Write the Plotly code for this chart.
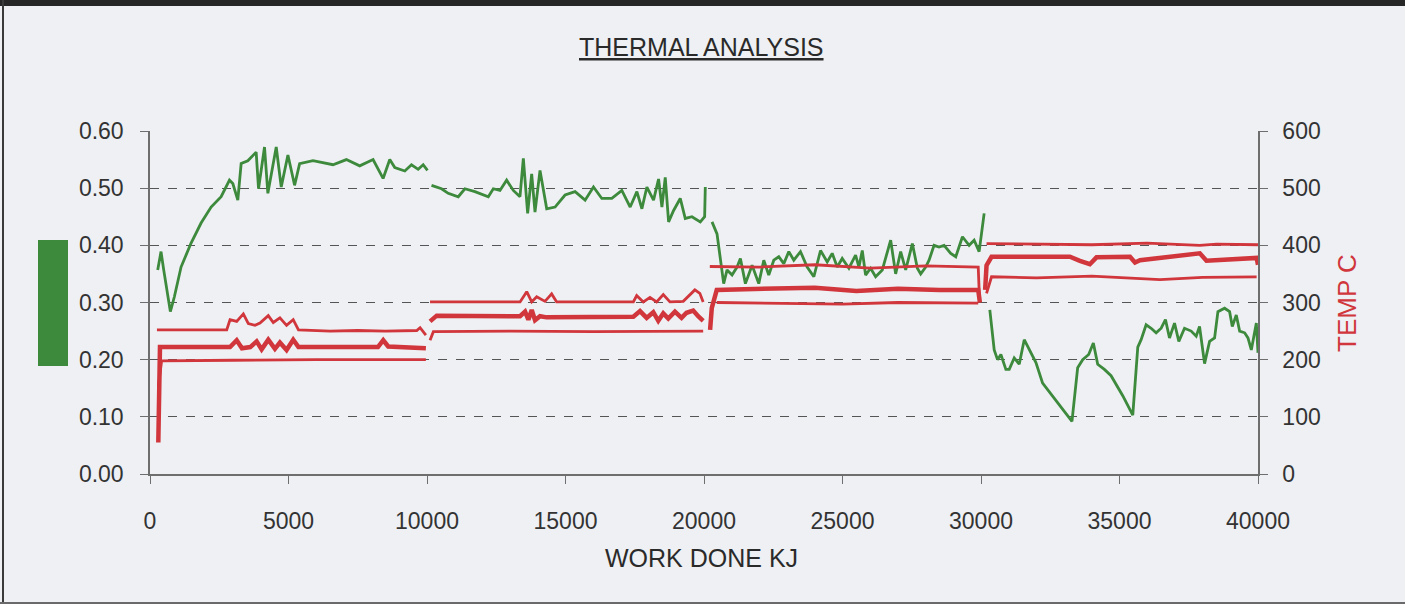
import plotly.graph_objects as go

# ---------------- data ----------------
# green series (left axis), four test segments
g1_x = [278, 398, 495, 735, 880, 1121, 1483, 1844, 2206, 2568, 2869, 2990, 3170, 3291, 3532, 3833, 3918, 4134, 4255,
        4557, 4738, 4979, 5220, 5401, 5883, 6607, 7089, 7571, 8053, 8415, 8656, 8837, 9199, 9440, 9681, 9862, 10018]
g1_y = [.357, .389, .357, .284, .31, .362, .404, .439, .467, .485, .514, .508, .479, .543, .548, .563, .499, .572, .491,
        .572, .502, .558, .505, .543, .548, .541, .55, .539, .55, .517, .55, .536, .53, .541, .533, .541, .531]
g2_x = [10163, 10524, 10766, 11128, 11368, 11730, 12213, 12394, 12634, 12875, 13117, 13357, 13478, 13634, 13779, 13899,
        14080, 14322, 14623, 14984, 15346, 15708, 16010, 16311, 16673, 17034, 17335, 17577, 17758, 17938, 18179, 18360,
        18481, 18601, 18722, 18903, 19143, 19324, 19565, 19866, 20023, 20047]
g2_y = [.505, .499, .491, .485, .499, .494, .485, .499, .496, .514, .496, .485, .552, .456, .525, .458,
        .531, .464, .467, .488, .494, .479, .502, .482, .482, .496, .467, .494, .464, .502, .479, .516,
        .467, .519, .441, .461, .482, .447, .45, .441, .45, .502]
g3_x = [20289, 20470, 20711, 20832, 21013, 21193, 21314, 21495, 21736, 21856, 21977, 22158, 22338, 22519, 22700, 22881,
        23062, 23242, 23483, 23725, 23966, 24207, 24448, 24629, 24810, 24990, 25231, 25473, 25593, 25714, 25834, 26015,
        26196, 26437, 26618, 26739, 26919, 27100, 27281, 27522, 27703, 27823, 28004, 28125, 28305, 28486, 28667, 28908,
        29089, 29330, 29571, 29752, 29933, 30114]
g3_y = [.441, .42, .333, .357, .348, .362, .377, .333, .365, .35, .333, .374, .348, .374, .38, .368,
        .389, .374, .389, .362, .345, .391, .371, .386, .362, .377, .36, .383, .362, .391, .348, .36,
        .345, .357, .389, .409, .35, .389, .357, .403, .36, .35, .362, .374, .4, .397, .4, .386,
        .38, .415, .4, .409, .389, .456]
g4_x = [30318, 30477, 30597, 30718, 30898, 31019, 31200, 31380, 31561, 31802, 31983, 32224, 32767, 33284, 33490, 33671,
        33888, 34056, 34213, 34454, 34695, 35117, 35479, 35660, 35781, 35961, 36142, 36323, 36504, 36660, 36805, 36986,
        37142, 37347, 37588, 37769, 37890, 38071, 38252, 38433, 38553, 38794, 38975, 39071, 39216, 39337, 39518, 39638,
        39759, 39940, 40000]
g4_y = [.287, .217, .2, .209, .183, .183, .203, .192, .235, .212, .195, .159, .124, .092, .186, .2,
        .209, .229, .192, .183, .172, .137, .103, .222, .235, .261, .255, .247, .255, .27, .238, .264,
        .232, .255, .25, .241, .258, .193, .232, .238, .284, .29, .284, .258, .278, .25, .247, .238,
        .217, .264, .212]

# red temperature series (right axis, deg C): upper, middle (thick), lower
t_up1_x = [250, 2770, 2890, 3130, 3370, 3550, 3790, 3970, 4270, 4450, 4690, 4930, 5170, 5360, 6500, 7500, 8500, 9630, 9750, 9960]
t_up1_y = [252, 252, 270, 267, 280, 263, 260, 264, 277, 265, 273, 260, 270, 252, 250, 251, 250, 251, 256, 243]
t_up2_x = [10110, 13360, 13600, 13780, 13960, 14260, 14500, 14680, 17450, 17570, 17810, 18050, 18290, 18530, 18770, 19250, 19670, 19850, 19970]
t_up2_y = [301, 301, 319, 301, 310, 302, 315, 301, 301, 312, 301, 309, 301, 314, 301, 302, 322, 316, 301]
t_up3_x = [20210, 22000, 24000, 26000, 28000, 29900, 29950]
t_up3_y = [363, 362, 366, 360, 364, 362, 300]
t_up4_x = [30200, 32000, 34000, 36000, 37900, 38500, 40000]
t_up4_y = [403, 402, 401, 404, 400, 402, 401]

t_mid1_x = [300, 360, 2890, 3130, 3320, 3620, 3850, 4030, 4270, 4510, 4690, 4930, 5170, 5360, 8230, 8420, 8600, 9960]
t_mid1_y = [55, 222, 222, 234, 220, 222, 232, 218, 235, 219, 230, 217, 235, 222, 222, 234, 223, 220]
t_mid2_x = [10110, 10350, 13360, 13540, 13660, 13780, 13900, 14080, 14320, 17450, 17690, 17930, 18170, 18350, 18530,
            18710, 18950, 19190, 19370, 19610, 19790, 19970]
t_mid2_y = [267, 277, 276, 284, 270, 287, 269, 276, 274, 275, 285, 273, 283, 268, 281, 272, 284, 273, 282, 286, 276, 268]
t_mid3_x = [20220, 20280, 20460, 22000, 24000, 25500, 27000, 28500, 29900, 29960]
t_mid3_y = [252, 290, 322, 323, 326, 320, 324, 322, 322, 300]
t_mid4_x = [30150, 30200, 30380, 33210, 33570, 33930, 34170, 35380, 35560, 35740, 37900, 38140, 39950, 40000]
t_mid4_y = [322, 365, 380, 380, 373, 367, 379, 380, 370, 374, 386, 373, 378, 366]

t_lo1_x = [300, 420, 3000, 6000, 9960]
t_lo1_y = [153, 198, 199, 200, 200]
t_lo2_x = [10110, 10230, 13000, 16000, 19970]
t_lo2_y = [234, 249, 250, 249, 250]
t_lo3_x = [20460, 22000, 25000, 27000, 29900]
t_lo3_y = [300, 299, 297, 300, 299]
t_lo4_x = [30200, 30380, 32000, 34000, 36460, 38000, 39950]
t_lo4_y = [316, 345, 343, 346, 340, 344, 345]

x_ticks = [0, 5000, 10000, 15000, 20000, 25000, 30000, 35000, 40000]
y_ticks = [0.0, 0.1, 0.2, 0.3, 0.4, 0.5, 0.6]
y2_ticks = [0, 100, 200, 300, 400, 500, 600]


def join(segs):
    out = []
    for i, s in enumerate(segs):
        if i:
            out.append(None)
        out.extend(s)
    return out


GREEN = "#3d8a3d"
RED = "#d0363b"
TXT = "#333333"
FONT = "Liberation Sans, Arial, sans-serif"

fig = go.Figure()
fig.add_trace(go.Scatter(x=join([g1_x, g2_x, g3_x, g4_x]), y=join([g1_y, g2_y, g3_y, g4_y]),
                         mode="lines", line=dict(color=GREEN, width=2.8), connectgaps=False, showlegend=False))
fig.add_trace(go.Scatter(x=join([t_up1_x, t_up2_x, t_up3_x, t_up4_x]), y=join([t_up1_y, t_up2_y, t_up3_y, t_up4_y]),
                         mode="lines", line=dict(color=RED, width=2.8), yaxis="y2", connectgaps=False, showlegend=False))
fig.add_trace(go.Scatter(x=join([t_mid1_x, t_mid2_x, t_mid3_x, t_mid4_x]), y=join([t_mid1_y, t_mid2_y, t_mid3_y, t_mid4_y]),
                         mode="lines", line=dict(color=RED, width=4.5), yaxis="y2", connectgaps=False, showlegend=False))
fig.add_trace(go.Scatter(x=join([t_lo1_x, t_lo2_x, t_lo3_x, t_lo4_x]), y=join([t_lo1_y, t_lo2_y, t_lo3_y, t_lo4_y]),
                         mode="lines", line=dict(color=RED, width=2.8), yaxis="y2", connectgaps=False, showlegend=False))

BG = "#eef0f3"
fig.update_layout(
    width=1405, height=604,
    margin=dict(l=150, r=147, t=131, b=130),
    paper_bgcolor=BG, plot_bgcolor=BG,
    font=dict(family=FONT, color=TXT, size=23),
    xaxis=dict(range=[0, 40000], tickvals=x_ticks, ticktext=[str(v) for v in x_ticks],
               showgrid=False, zeroline=False, showline=True, linecolor="#6e6e6e", linewidth=1.5,
               ticks="outside", ticklen=8, tickcolor="#6e6e6e", tickfont=dict(size=23, color=TXT),
               ticklabelstandoff=18),
    yaxis=dict(range=[0, 0.6], tickvals=y_ticks, tickformat=".2f", showgrid=True,
               gridcolor="#555555", griddash="dash", gridwidth=1, zeroline=False,
               showline=True, linecolor="#6e6e6e", linewidth=1.5,
               ticks="outside", ticklen=8, tickcolor="#6e6e6e", tickfont=dict(size=23, color=TXT),
               ticklabelstandoff=12),
    yaxis2=dict(range=[0, 600], tickvals=y2_ticks, overlaying="y", side="right", showgrid=False, zeroline=False,
                showline=True, linecolor="#6e6e6e", linewidth=1.5,
                ticks="outside", ticklen=8, tickcolor="#6e6e6e", tickfont=dict(size=23, color=TXT),
                ticklabelstandoff=10),
    annotations=[
        dict(text="<u>THERMAL ANALYSIS</u>", xref="paper", yref="paper", x=0.498, y=1.245,
             showarrow=False, xanchor="center", yanchor="middle", font=dict(size=25, color="#2a2a2a", family=FONT)),
        dict(text="WORK DONE KJ", xref="paper", yref="paper", x=0.498, y=-0.245,
             showarrow=False, xanchor="center", yanchor="middle", font=dict(size=25, color="#2a2a2a", family=FONT)),
        dict(text="TEMP C", xref="paper", yref="paper", x=1.0803, y=0.4985, textangle=-90,
             showarrow=False, xanchor="center", yanchor="middle", font=dict(size=26, color=RED, family=FONT)),
    ],
    shapes=[
        # green left-axis marker bar
        dict(type="rect", xref="paper", yref="paper", x0=(38 - 150) / 1108, x1=(68 - 150) / 1108,
             y0=(474 - 366) / 343, y1=(474 - 240) / 343, fillcolor=GREEN, line=dict(width=0)),
        # page frame: top bar, left edge, bottom edge
        dict(type="rect", xref="paper", yref="paper", x0=-0.2, x1=1.3, y0=(474 - 6) / 343, y1=(474 + 2) / 343,
             fillcolor="#262626", line=dict(width=0)),
        dict(type="line", xref="paper", yref="paper", x0=(3 - 150) / 1108, x1=(3 - 150) / 1108,
             y0=(474 + 2) / 343, y1=(474 - 606) / 343, line=dict(color="#3a3a3a", width=2)),
        dict(type="line", xref="paper", yref="paper", x0=-0.2, x1=1.3,
             y0=(474 - 603) / 343, y1=(474 - 603) / 343, line=dict(color="#6a6a6a", width=2)),
    ],
)

fig.write_html("out.html", config={"displayModeBar": False},
               post_script="document.body.style.margin='0';document.body.style.overflow='hidden';"
                           "document.documentElement.style.overflow='hidden';"
                           "document.body.style.background='" + BG + "';")
